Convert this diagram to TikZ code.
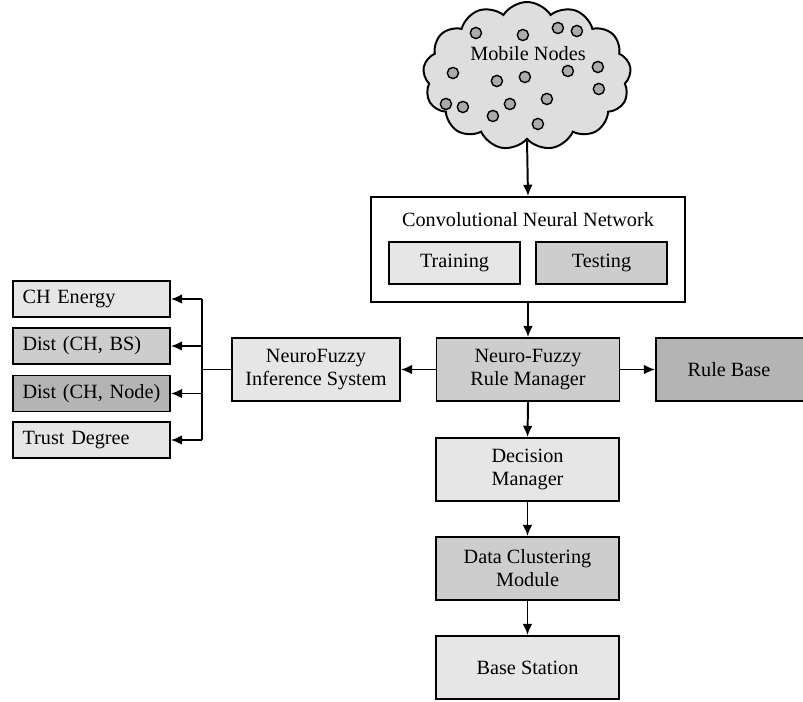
\documentclass[tikz,border=0pt]{standalone}
\usepackage{fontspec}
\setmainfont{Liberation Serif}
\usetikzlibrary{shapes.symbols,arrows.meta}

\definecolor{boxlight}{HTML}{E6E6E6}
\definecolor{boxmid}{HTML}{CDCDCD}
\definecolor{boxdark}{HTML}{B4B4B4}
\definecolor{cloudfill}{HTML}{DEDEDE}
\definecolor{dotfill}{HTML}{ABABAB}

\begin{document}
\begin{tikzpicture}[font=\fontsize{14.4}{16.4}\selectfont,
  every node/.style={inner sep=0pt},
  box/.style={draw, line width=1.4pt, minimum width=4.575cm, minimum height=1.575cm, align=center},
  param/.style={draw, line width=1.4pt, minimum width=3.925cm, minimum height=0.9cm, text width=3.45cm, align=left},
  arr/.style={-{Latex[length=8pt,width=7pt]}, line width=1.4pt}]
  \useasboundingbox (0,0) rectangle (20.075,-17.525);

  % cloud of mobile nodes
  \node[cloud, draw, line width=1.4pt, fill=cloudfill, cloud puffs=13, cloud puff arc=115,
        minimum width=5.2cm, minimum height=3.7cm] (cloud) at (13.175,-1.9) {};
  \node (mobile) at (13.2,-1.33) {Mobile Nodes};
  \foreach \x/\y in {476/33, 523/35, 558/28, 577/31, 453/73, 497/81, 525/77, 568/71,
                     598/67, 599/89, 446/104, 463/107, 493/116, 510/104, 547/99, 538/124}
    \filldraw[fill=dotfill, line width=1pt] (\x*0.025,-\y*0.025) circle (0.14);

  % cnn block
  \node[draw, line width=1.4pt, minimum width=7.85cm, minimum height=2.625cm] (cnn) at (13.2,-6.2375) {};
  \node (cnntitle) at (13.2,-5.5) {Convolutional Neural Network};
  \node[box, fill=boxlight, minimum width=3.275cm, minimum height=1.05cm] (train) at (11.3625,-6.575) {Training};
  \node[box, fill=boxmid, minimum width=3.275cm, minimum height=1.05cm] (test) at (15.0375,-6.575) {Testing};

  % middle row
  \node[box, fill=boxmid] (nfrm) at (13.2,-9.2375) {Neuro-Fuzzy\\Rule Manager};
  \node[box, fill=boxdark, minimum width=4.0cm] (rb) at (18.4,-9.2375) {};
  \node (rbtext) at (18.225,-9.2375) {Rule Base};
  \node[box, fill=boxlight, minimum width=4.2cm] (nis) at (7.9,-9.2375) {NeuroFuzzy\\Inference System};

  % parameters
  \node[param, fill=boxlight] (energy) at (2.2875,-7.475) {CH Energy};
  \node[param, fill=boxmid] (distbs) at (2.2875,-8.65) {Dist (CH, BS)};
  \node[param, fill=boxdark] (distnode) at (2.2875,-9.8375) {Dist (CH, Node)};
  \node[param, fill=boxlight] (trust) at (2.2875,-11.0) {Trust Degree};
  \coordinate (bus) at (5.05,-9.2375);

  % lower chain
  \node[box, fill=boxlight] (dm) at (13.1875,-11.7375) {Decision\\Manager};
  \node[box, fill=boxmid] (dcm) at (13.1875,-14.2125) {Data Clustering\\Module};
  \node[box, fill=boxlight] (bs) at (13.1875,-16.6875) {Base Station};

  \draw[arr] (cloud.south) -- (cnn.north);
  \draw[arr] (cnn.south) -- (nfrm.north);
  \draw[arr] (nfrm.east) -- (rb.west);
  \draw[arr] (nfrm.west) -- (nis.east);
  \draw[line width=1.4pt] (nis.west) -- (bus);
  \draw[line width=1.4pt] (bus |- energy.east) -- (bus |- trust.east);
  \foreach \p in {energy, distbs, distnode, trust}
    \draw[arr] (bus |- \p.east) -- (\p.east);
  \draw[arr] (nfrm.south) -- (dm.north);
  \draw[arr] (dm.south) -- (dcm.north);
  \draw[arr] (dcm.south) -- (bs.north);
\end{tikzpicture}
\end{document}
